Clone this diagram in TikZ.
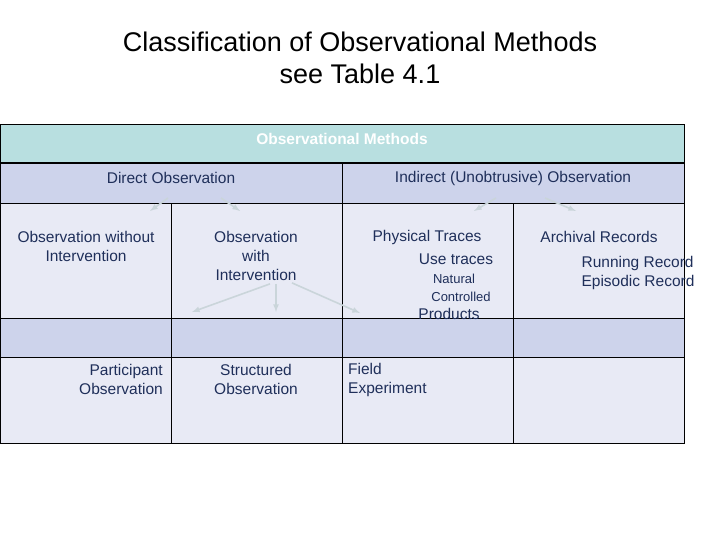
\documentclass[tikz,border=0pt]{standalone}
\usepackage{fontspec}
\setmainfont{Liberation Sans}
\begin{document}
\begin{tikzpicture}[x=1pt,y=-1pt,
  txt/.style={inner sep=0pt,text=navyt,font=\fontsize{15.5}{19}\selectfont,align=center},
  arr/.style={draw=cyan!20!gray!40,line width=1.6pt,-latex}]
\definecolor{teal1}{HTML}{B8DFE0}\definecolor{lav}{HTML}{CDD3EB}\definecolor{pale}{HTML}{E8EAF5}
\definecolor{navyt}{HTML}{1F2F5A}
\useasboundingbox (0,0) rectangle (720,540);
\node at (360,42) {\fontsize{27}{32}\selectfont Classification of Observational Methods};
\node at (360,74) {\fontsize{27}{32}\selectfont see Table 4.1};
\fill[teal1] (0,125) rectangle (684,163);
\fill[lav] (0,163) rectangle (684,204);
\fill[pale] (0,204) rectangle (684,318);
\fill[lav] (0,318) rectangle (684,357);
\fill[pale] (0,357) rectangle (684,443);
\draw[line width=1pt] (0,125) rectangle (684,443);
\draw[line width=2pt] (0,163) -- (684,163);
\draw[line width=1pt] (0,204) -- (684,204) (0,318) -- (684,318) (0,357) -- (684,357)
  (342,163) -- (342,443) (171,204) -- (171,443) (513,204) -- (513,443);
\node[txt,text=white,font=\fontsize{15.5}{19}\selectfont\bfseries] (om) at (342,139) {Observational Methods};
\node[txt] (do) at (171,178) {Direct Observation};
\node[txt] (io) at (513,178) {Indirect (Unobtrusive) Observation};
\node[txt] (owo) at (86,246) {Observation without\\Intervention};
\node[txt] (owi) at (256,256) {Observation\\with\\Intervention};
\node[txt] (pt) at (427,237) {Physical Traces};
\node[txt] (ut) at (456,259) {Use traces};
\node[txt,font=\fontsize{13}{15}\selectfont] (nat) at (454,279) {Natural};
\node[txt,font=\fontsize{13}{15}\selectfont] (con) at (461,297) {Controlled};
\node[txt] (pr) at (449,314) {Products};
\node[txt] (ar) at (599,237) {Archival Records};
\node[txt,align=left] (rr) at (638,273) {Running Record\\Episodic Record};
\node[txt,align=right] (po) at (121,379) {Participant\\Observation};
\node[txt] (so) at (256,379) {Structured\\Observation};
\node[txt,align=left,anchor=west] (fe) at (348,380) {Field\\Experiment};
\coordinate (a1) at (150,211); \coordinate (a2) at (240,211);
\coordinate (a3) at (474,211); \coordinate (a4) at (576,211);
\coordinate (b1) at (192,312); \coordinate (b2) at (276,312); \coordinate (b3) at (360,313);
\draw[arr] (do.center) ++(-3,20) -- (a1);
\draw[arr] (do.center) ++(50,20) -- (a2);
\draw[arr] (io.center) ++(-17,20) -- (a3);
\draw[arr] (io.center) ++(32,20) -- (a4);
\draw[arr] (owi.south) ++(14,3) -- (b1);
\draw[arr] (owi.south) ++(20,3) -- (b2);
\draw[arr] (owi.south) ++(36,2) -- (b3);
\end{tikzpicture}
\end{document}
